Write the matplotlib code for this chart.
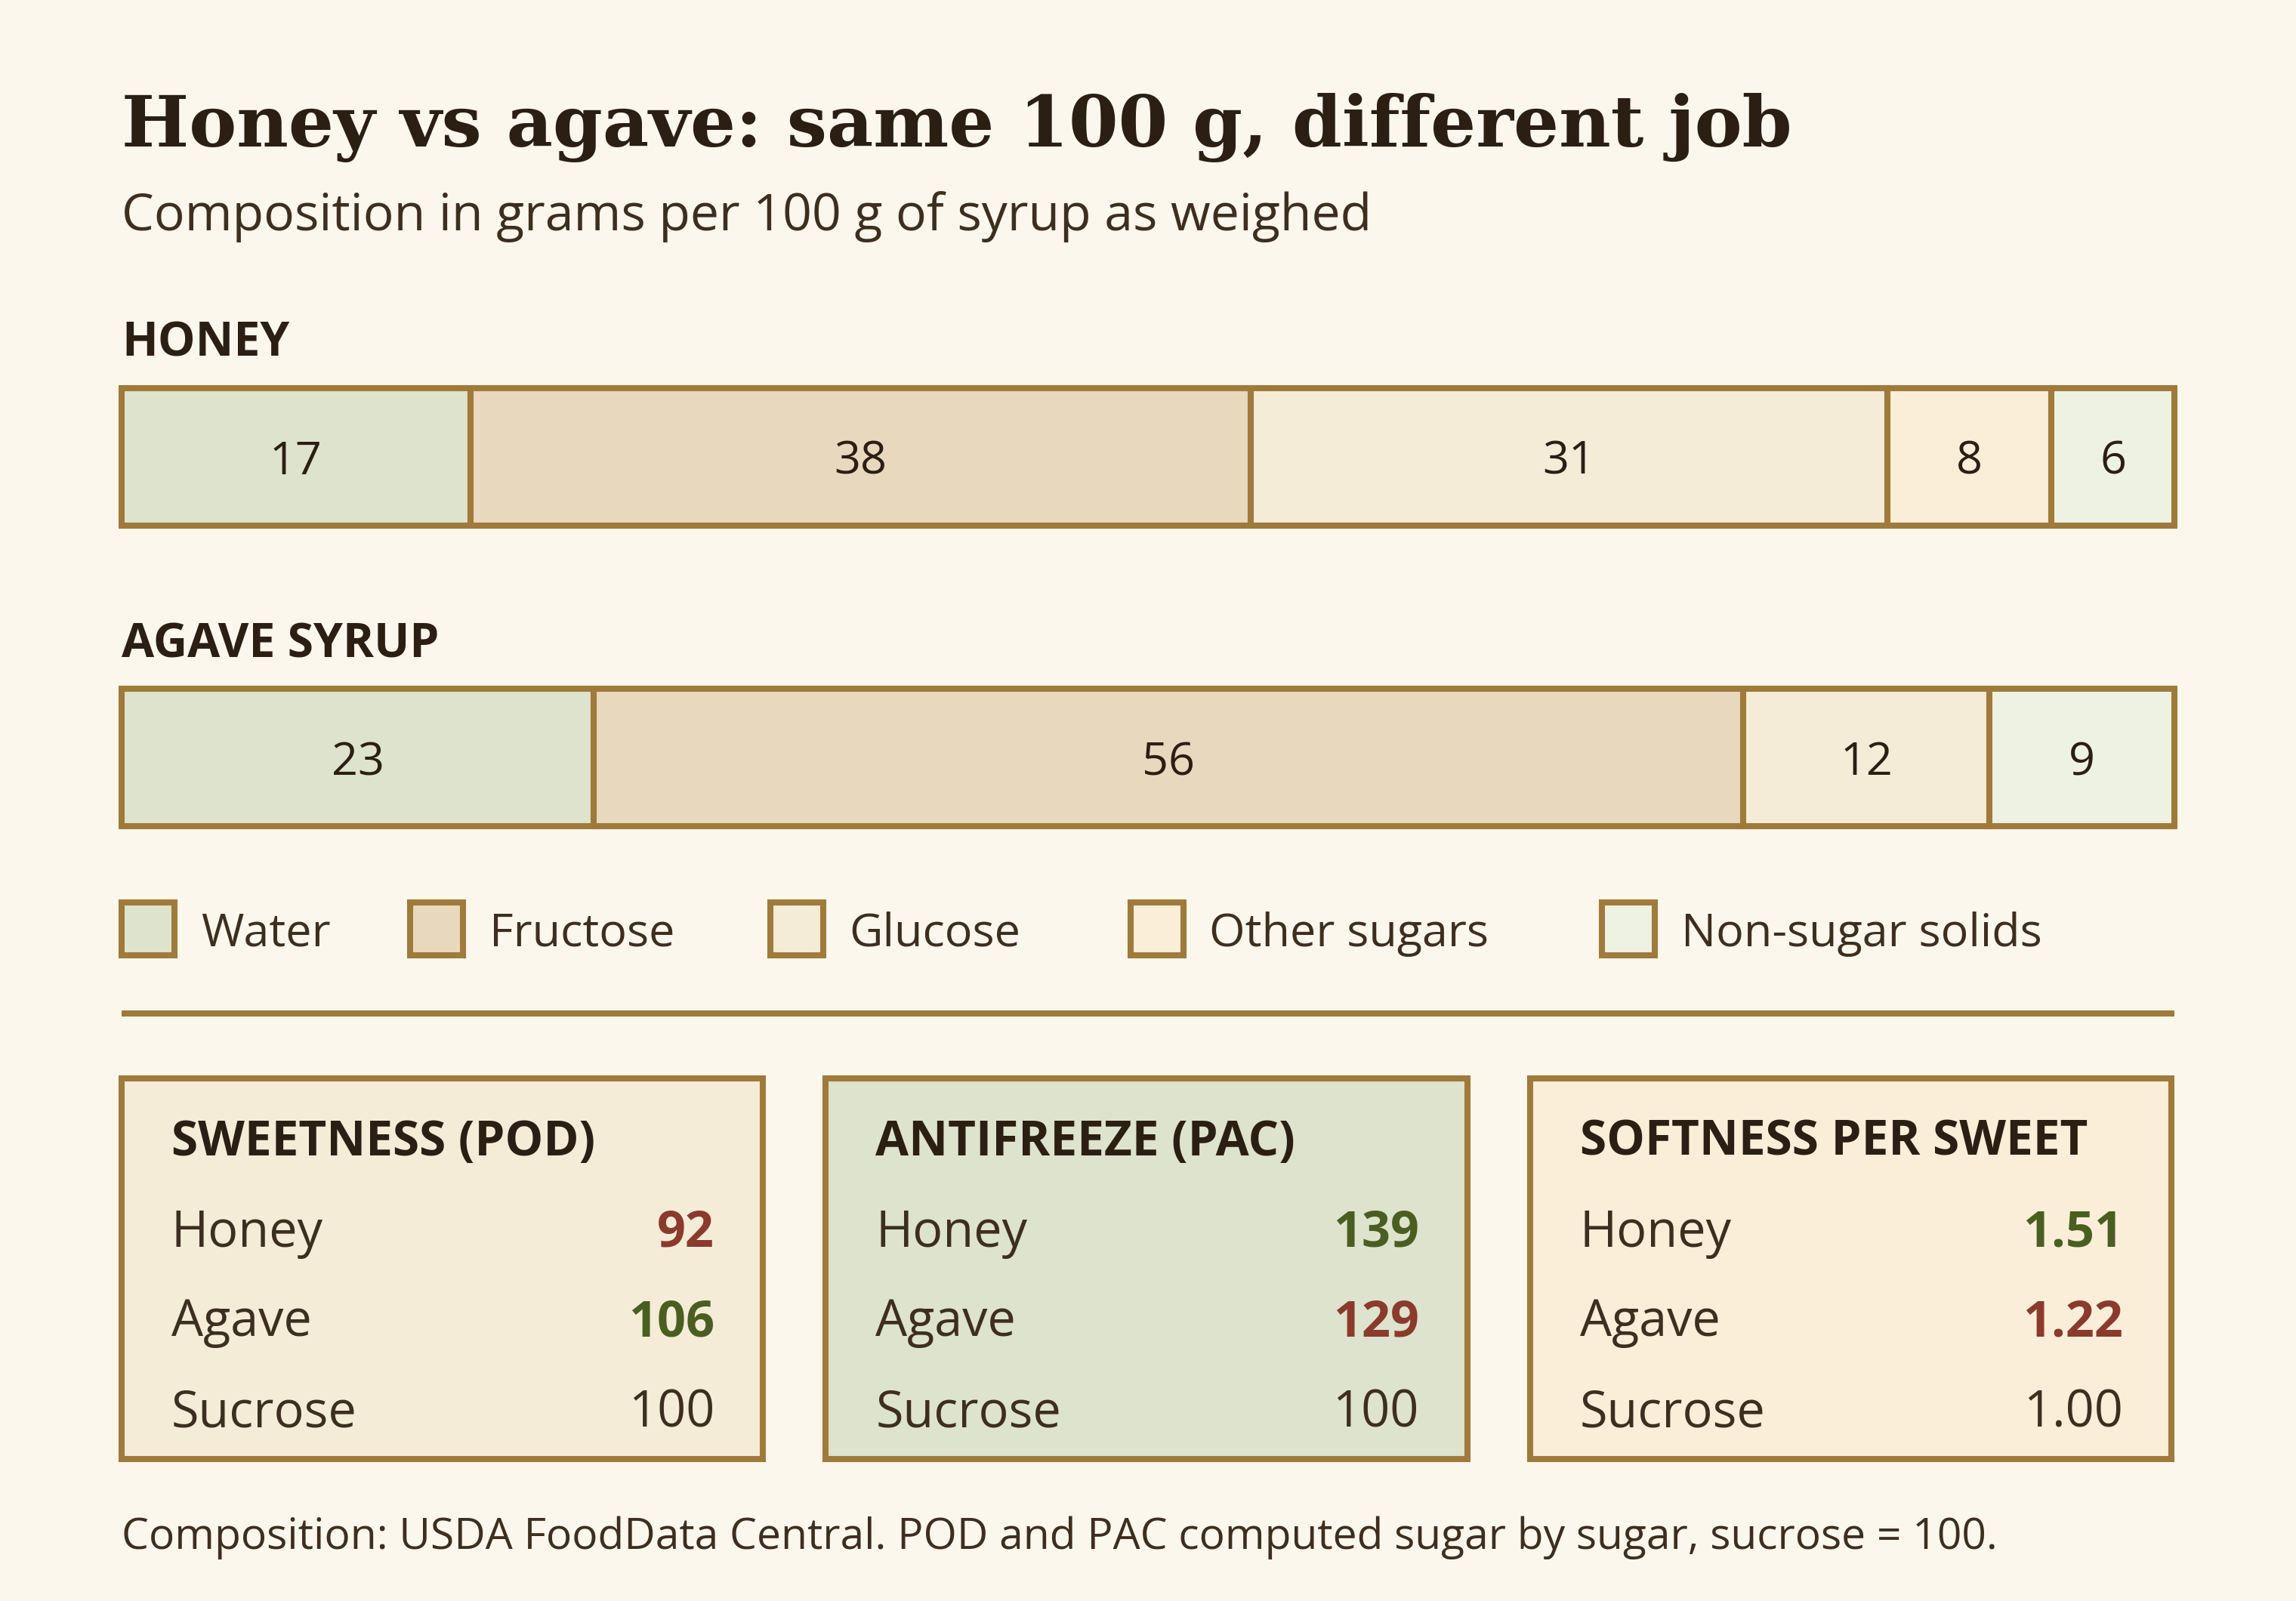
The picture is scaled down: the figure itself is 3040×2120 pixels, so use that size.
import numpy as np
import matplotlib
matplotlib.use("Agg")
import matplotlib.pyplot as plt
from matplotlib.patches import Rectangle

# --- data -------------------------------------------------------------
categories = ["Water", "Fructose", "Glucose", "Other sugars", "Non-sugar solids"]
honey_g = [17, 38, 31, 8, 6]
agave_g = [23, 56, 12, 0, 9]
bar_names = ["HONEY", "AGAVE SYRUP"]

metric_titles = ["SWEETNESS (POD)", "ANTIFREEZE (PAC)", "SOFTNESS PER SWEET"]
row_names = ["Honey", "Agave", "Sucrose"]
pod_vals = ["92", "106", "100"]
pac_vals = ["139", "129", "100"]
soft_vals = ["1.51", "1.22", "1.00"]
# which row wins / loses in each card (1 = better, -1 = worse, 0 = reference)
pod_flag = [-1, 1, 0]
pac_flag = [1, -1, 0]
soft_flag = [1, -1, 0]

# --- style ------------------------------------------------------------
BG = "#fcf7ec"
EDGE = "#a07a3a"
INK = "#2b1f14"
INK2 = "#3d2f20"
RED = "#8b3a2e"
GREEN = "#4b5e22"
seg_colors = ["#dde3cc", "#e8d8bd", "#f5ecd7", "#faeed9", "#eef2e2"]
card_colors = ["#f5ecd7", "#dde3cc", "#faeed9"]

SANS = ["Open Sans", "DejaVu Sans"]
SERIF = ["DejaVu Serif"]

W, H = 1568, 1093  # layout grid in reference pixels


def fx(x):
    return x / W


def fy(y):
    return 1 - y / H


fig = plt.figure(figsize=(15.2, 10.6), dpi=200, facecolor=BG)

# overlay axes in reference-pixel coordinates for text and cards
ov = fig.add_axes([0, 0, 1, 1])
ov.set_xlim(0, W)
ov.set_ylim(H, 0)
ov.axis("off")
ov.set_facecolor(BG)

ov.text(83, 100, "Honey vs agave: same 100 g, different job", family=SERIF,
        weight="bold", fontsize=34, color=INK, va="baseline", ha="left")
ov.text(83, 157, "Composition in grams per 100 g of syrup as weighed", family=SANS,
        fontsize=24.5, color=INK2, va="baseline", ha="left")

# --- stacked bars -----------------------------------------------------
bx = fig.add_axes([fx(83), fy(564), fx(1485) - fx(83), fy(265) - fy(564)])
bx.set_xlim(0, 100)
bx.set_ylim(1.228, -0.228)
bx.axis("off")

for row, vals in enumerate([honey_g, agave_g]):
    lefts = np.concatenate([[0], np.cumsum(vals)[:-1]])
    for v, l, c in zip(vals, lefts, seg_colors):
        if v == 0:
            continue
        bx.barh(row, v, left=l, height=0.458, color=c, edgecolor=EDGE,
                linewidth=2.9, clip_on=False)
        bx.text(l + v / 2, row, str(v), ha="center", va="center_baseline",
                family=SANS, fontsize=22, color=INK)

ov.text(83, 243, bar_names[0], family=SANS, weight="bold", fontsize=22.5,
        color=INK, va="baseline")
ov.text(83, 449, bar_names[1], family=SANS, weight="bold", fontsize=22.5,
        color=INK, va="baseline")

# --- legend -----------------------------------------------------------
legend_x = [83, 280, 526, 772, 1094]
for name, c, x in zip(categories, seg_colors, legend_x):
    ov.add_patch(Rectangle((x, 616), 36, 36, facecolor=c, edgecolor=EDGE,
                           linewidth=2.9))
    ov.text(x + 54, 634, name, family=SANS, fontsize=22, color=INK2,
            va="center_baseline", ha="left")

ov.plot([83, 1485], [692, 692], color=EDGE, linewidth=2.9,
        solid_capstyle="butt")

# --- metric cards -----------------------------------------------------
card_x = [83, 564, 1045]
card_w = 438
card_top, card_bot = 736, 996
all_vals = [pod_vals, pac_vals, soft_vals]
all_flags = [pod_flag, pac_flag, soft_flag]
row_y = [838, 899, 961]

for x0, title, vals, flags, fc in zip(card_x, metric_titles, all_vals,
                                      all_flags, card_colors):
    ov.add_patch(Rectangle((x0, card_top), card_w, card_bot - card_top,
                           facecolor=fc, edgecolor=EDGE, linewidth=2.9))
    ov.text(x0 + 34, 776, title, family=SANS, weight="bold", fontsize=23,
            color=INK, va="center_baseline")
    for name, v, f, y in zip(row_names, vals, flags, row_y):
        ov.text(x0 + 34, y, name, family=SANS, fontsize=24, color=INK2,
                va="center_baseline")
        col = {1: GREEN, -1: RED, 0: INK2}[f]
        ov.text(x0 + card_w - 33, y, v, family=SANS, fontsize=24, color=col,
                weight="bold" if f else "normal", ha="right",
                va="center_baseline")

ov.text(83, 1046, "Composition: USDA FoodData Central. POD and PAC computed "
        "sugar by sugar, sucrose = 100.", family=SANS, fontsize=20.5,
        color=INK2, va="center_baseline")

fig.savefig("out.png", dpi=200, facecolor=BG)
